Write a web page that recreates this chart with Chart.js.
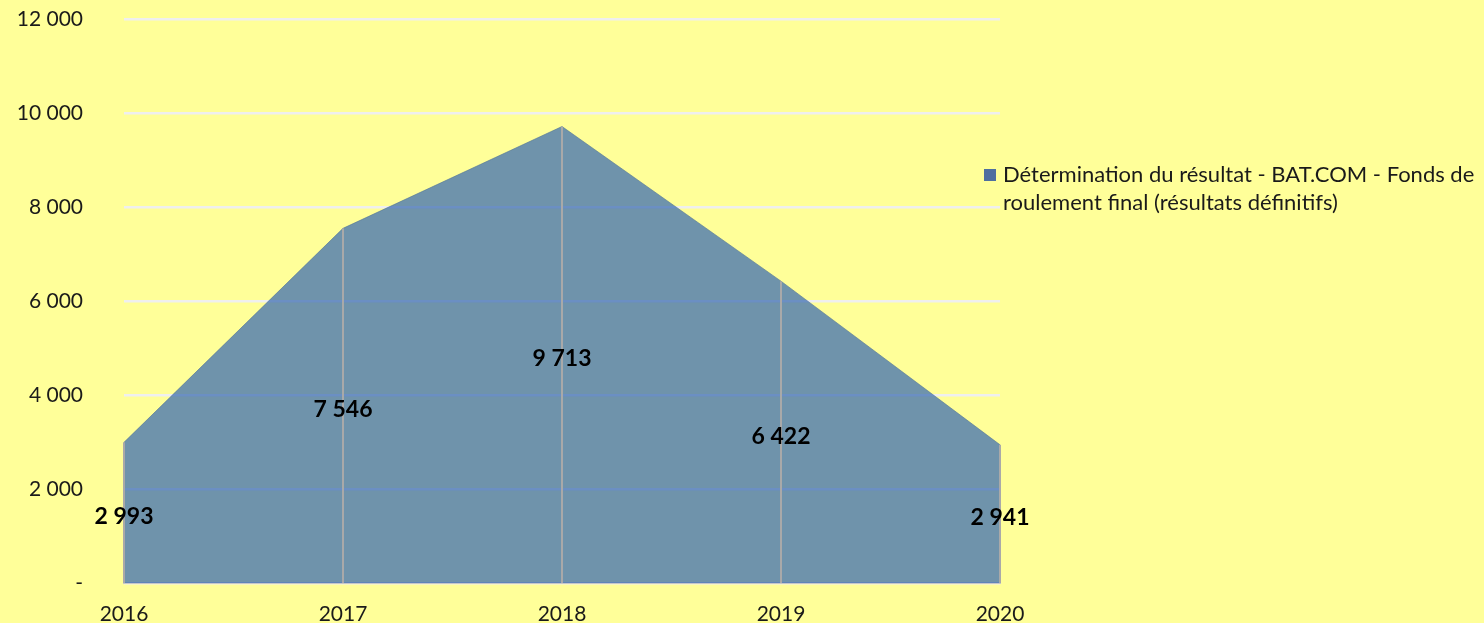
<!DOCTYPE html>
<html>
<head>
<meta charset="utf-8">
<script src="https://cdn.jsdelivr.net/npm/chart.js@4.4.1/dist/chart.umd.min.js"></script>
<style>
  html, body { margin: 0; padding: 0; background: #FFFF99; }
  #wrap { position: relative; width: 1484px; height: 623px; overflow: hidden; background: #FFFF99; }
  #c { position: absolute; left: 0; top: 0; }
  #legend { position: absolute; left: 984px; top: 160px; width: 500px; font-family: Lato, sans-serif; font-size: 22px; line-height: 28px; color: #1a1a1a; }
  #legend .sw { position: absolute; left: 0; top: 9px; width: 12px; height: 12px; background: #4F6F9F; }
  #legend .tx { position: absolute; left: 19px; top: 0; white-space: nowrap; }
</style>
</head>
<body>
<div id="wrap">
  <canvas id="c" width="1484" height="623"></canvas>
  <div id="legend"><span class="sw"></span><span class="tx" id="legendText"></span></div>
</div>
<script>
const categories = ['2016', '2017', '2018', '2019', '2020'];
const seriesName = 'Détermination du résultat - BAT.COM - Fonds de roulement final (résultats définitifs)';
const legendLines = ['Détermination du résultat - BAT.COM - Fonds de', 'roulement final (résultats définitifs)'];
const values = [2993, 7546, 9713, 6422, 2941];
const yTicks = [0, 2000, 4000, 6000, 8000, 10000, 12000];

document.getElementById('legendText').innerHTML = legendLines.join('<br>');

function fmt(v) {
  if (v === 0) return '-';
  return String(Math.round(v)).replace(/\B(?=(\d{3})+(?!\d))/g, ' ');
}

const dropAndLabels = {
  id: 'dropAndLabels',
  afterDatasetsDraw(chart) {
    const ctx = chart.ctx;
    const meta = chart.getDatasetMeta(0);
    const yScale = chart.scales.y;
    const base = yScale.getPixelForValue(0);
    ctx.save();
    ctx.strokeStyle = '#A9A9A9';
    ctx.lineWidth = 2;
    meta.data.forEach((pt) => {
      ctx.beginPath();
      ctx.moveTo(pt.x, pt.y);
      ctx.lineTo(pt.x, base);
      ctx.stroke();
    });
    ctx.fillStyle = '#000000';
    ctx.font = 'bold 23px Lato, sans-serif';
    ctx.textAlign = 'center';
    ctx.textBaseline = 'middle';
    meta.data.forEach((pt, i) => {
      const midY = (pt.y + base) / 2 + 4;
      ctx.fillText(fmt(values[i]), pt.x, midY);
    });
    ctx.restore();
  }
};

new Chart(document.getElementById('c'), {
  type: 'line',
  data: {
    labels: categories,
    datasets: [{
      label: seriesName,
      data: values,
      fill: 'origin',
      backgroundColor: 'rgba(55,105,178,0.72)',
      borderColor: 'rgba(80,115,150,0.6)',
      borderWidth: 1,
      pointRadius: 0,
      tension: 0
    }]
  },
  options: {
    responsive: false,
    animation: false,
    layout: { padding: { top: 19, right: 484, left: 0, bottom: 0 } },
    plugins: {
      legend: { display: false },
      tooltip: { enabled: false }
    },
    scales: {
      x: {
        offset: false,
        grid: { display: false, drawTicks: false },
        border: { display: true, color: '#C8C8C8', width: 2 },
        ticks: { color: '#1a1a1a', font: { family: 'Lato', size: 21 }, padding: 19, maxRotation: 0, autoSkip: false },
        afterFit(scale) { scale.height = 40; scale.paddingLeft = 0; scale.paddingRight = 0; }
      },
      y: {
        min: 0,
        max: 12000,
        afterBuildTicks(scale) { scale.ticks = yTicks.map(v => ({ value: v })); },
        grid: { color: '#EFEFEF', lineWidth: 2.5, drawTicks: false },
        border: { display: false },
        ticks: {
          color: '#1a1a1a',
          font: { family: 'Lato', size: 21 },
          padding: 41,
          callback: (v) => fmt(v)
        },
        afterFit(scale) { scale.width = 124; scale.paddingTop = 0; scale.paddingBottom = 0; }
      }
    }
  },
  plugins: [dropAndLabels]
});
</script>
</body>
</html>
